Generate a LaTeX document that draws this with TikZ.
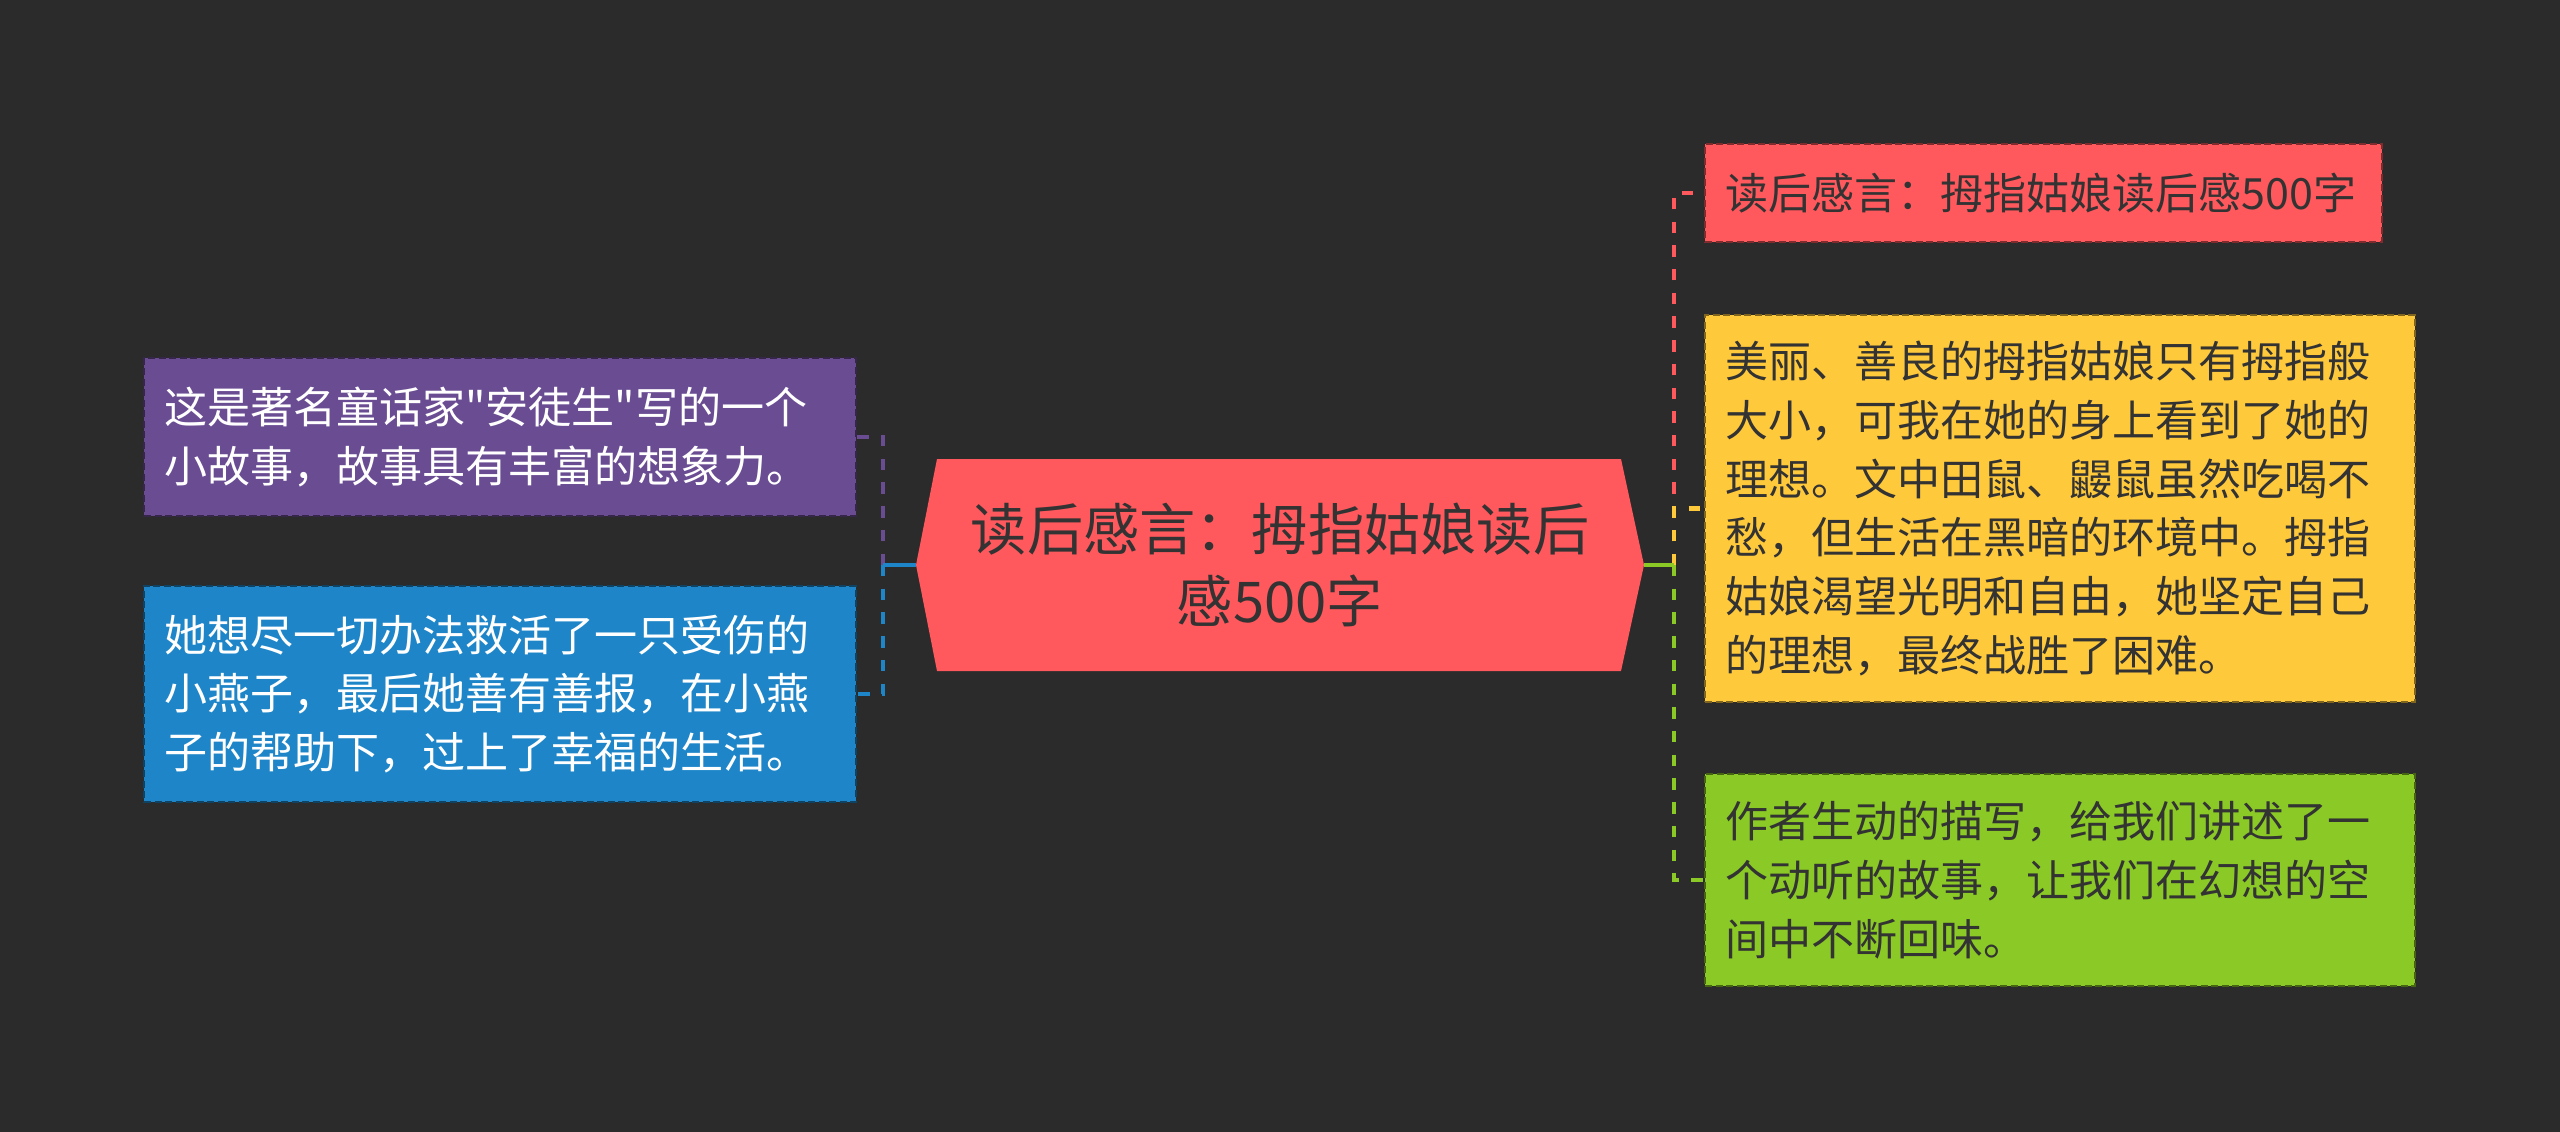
\documentclass[tikz,border=0pt]{standalone}
\usepackage{fontspec}
\setmainfont{Noto Sans CJK SC}
\definecolor{bgc}{HTML}{2B2B2B}
\definecolor{ink}{HTML}{333333}
\definecolor{rootc}{HTML}{FF585D}
\definecolor{redc}{HTML}{FF585D}
\definecolor{purplec}{HTML}{6A4C93}
\definecolor{bluec}{HTML}{1E86C8}
\definecolor{yellowc}{HTML}{FFC93C}
\definecolor{greenc}{HTML}{8AC926}
\begin{document}
\begin{tikzpicture}[x=0.02cm, y=-0.02cm, line join=miter,
	box/.style={draw=#1!50!black, fill=#1, dash pattern=on 4pt off 2pt, line width=1.1pt,
		inner xsep=0.4cm, inner ysep=0pt, align=left, font=\fontsize{24.5}{33.5}\selectfont},
	conn/.style={draw=#1, line width=2.6pt, dash pattern=on 6.5pt off 7pt},
	stub/.style={draw=#1, line width=2.6pt}]

	% nền
	\fill[bgc] (0,0) rectangle (2560,1132);

	% nút trung tâm
	\fill[rootc] (916,565) -- (937,459) -- (1621,459) -- (1644,565) -- (1621,671) -- (937,671) -- cycle;
	\node (root) at (1280,565) [minimum width=14.56cm, minimum height=4.24cm, align=center, text=ink,
		font=\fontsize{32}{41}\selectfont] {读后感言：拇指姑娘读后\\感500字};

	% nhánh trái
	\node[box=purplec, text=white, text width=13.44cm, minimum height=3.16cm] (story) at (500,437)
		{这是著名童话家\textquotedbl 安徒生\textquotedbl 写的一个\\小故事，故事具有丰富的想象力。};
	\node[box=bluec, text=white, text width=13.44cm, minimum height=4.32cm] (swallow) at (500,694)
		{她想尽一切办法救活了一只受伤的\\小燕子，最后她善有善报，在小燕\\子的帮助下，过上了幸福的生活。};

	% nhánh phải
	\node[box=redc, text=ink, text width=12.74cm, minimum height=1.96cm] (title) at (2043.5,193)
		{读后感言：拇指姑娘读后感500字};
	\node[box=yellowc, text=ink, text width=13.4cm, minimum height=7.74cm] (ideal) at (2060,508.5)
		{美丽、善良的拇指姑娘只有拇指般\\大小，可我在她的身上看到了她的\\理想。文中田鼠、鼹鼠虽然吃喝不\\愁，但生活在黑暗的环境中。拇指\\姑娘渴望光明和自由，她坚定自己\\的理想，最终战胜了困难。};
	\node[box=greenc, text=ink, text width=13.4cm, minimum height=4.24cm] (author) at (2060,880)
		{作者生动的描写，给我们讲述了一\\个动听的故事，让我们在幻想的空\\间中不断回味。};

	% đường nối
	\coordinate (lj) at (883,565);
	\coordinate (rj) at (1674,565);
	\draw[conn=purplec] (lj) |- (story.east);
	\draw[conn=bluec] (lj) |- (swallow.east);
	\draw[stub=bluec] (root.west) -- (lj);
	\draw[conn=redc] (rj) |- (title.west);
	\draw[conn=yellowc] (rj) |- (ideal.west);
	\draw[conn=greenc] (rj) |- (author.west);
	\draw[stub=greenc] (root.east) -- (rj);

\end{tikzpicture}
\end{document}
